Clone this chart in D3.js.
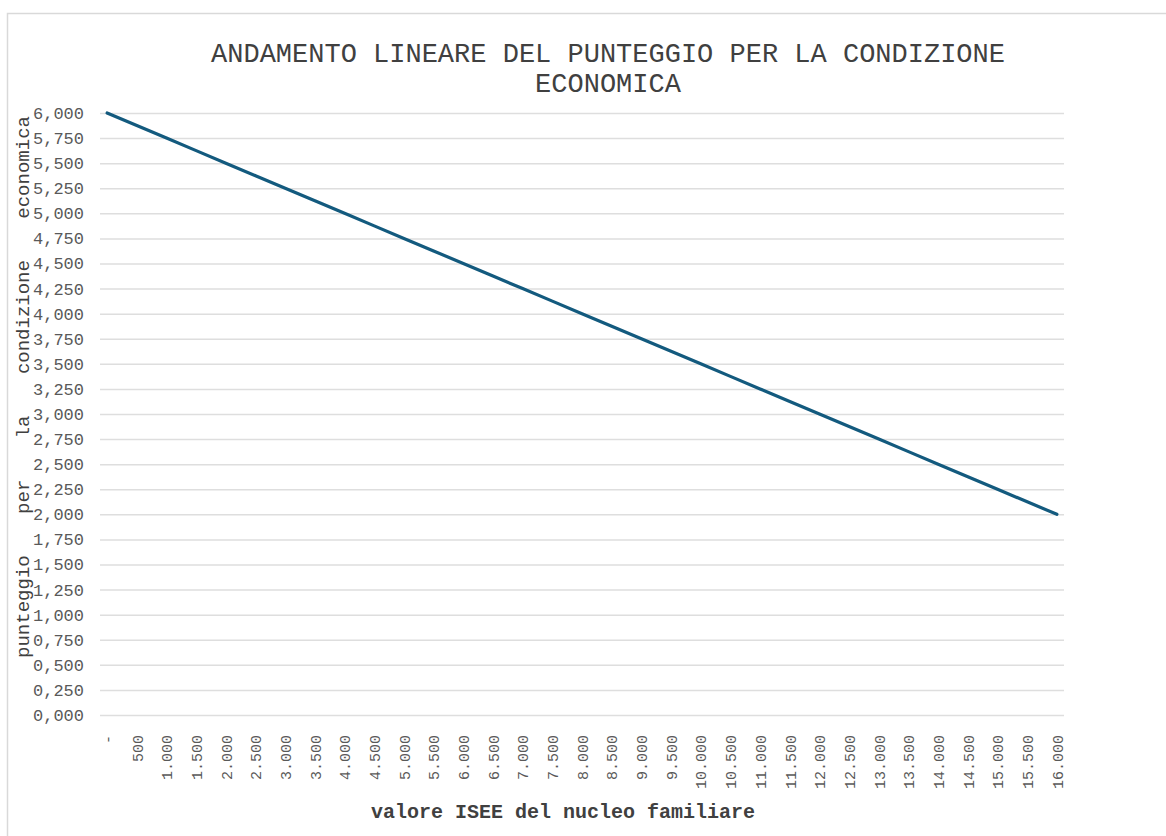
<!DOCTYPE html>
<html>
<head>
<meta charset="utf-8">
<script src="https://cdn.jsdelivr.net/npm/d3@7"></script>
<style>
  html, body { margin: 0; padding: 0; background: #fff; }
  svg { display: block; }
</style>
</head>
<body>
<div id="chart"></div>
<script>
// ISEE categories (euro) and score values
const isee = [0, 500, 1000, 1500, 2000, 2500, 3000, 3500, 4000, 4500, 5000, 5500,
  6000, 6500, 7000, 7500, 8000, 8500, 9000, 9500, 10000, 10500, 11000, 11500,
  12000, 12500, 13000, 13500, 14000, 14500, 15000, 15500, 16000];
const punteggio = [6.000, 5.875, 5.750, 5.625, 5.500, 5.375, 5.250, 5.125, 5.000,
  4.875, 4.750, 4.625, 4.500, 4.375, 4.250, 4.125, 4.000, 3.875, 3.750, 3.625,
  3.500, 3.375, 3.250, 3.125, 3.000, 2.875, 2.750, 2.625, 2.500, 2.375, 2.250,
  2.125, 2.000];
const yTicks = [0, 0.25, 0.5, 0.75, 1, 1.25, 1.5, 1.75, 2, 2.25, 2.5, 2.75, 3,
  3.25, 3.5, 3.75, 4, 4.25, 4.5, 4.75, 5, 5.25, 5.5, 5.75, 6];
const titleLines = ["ANDAMENTO LINEARE DEL PUNTEGGIO PER LA CONDIZIONE", "ECONOMICA"];
const xTitle = "valore ISEE del nucleo familiare";
const yTitle = "punteggio per la condizione economica";

const width = 1166, height = 836;
const mono = "'Liberation Mono', 'Courier New', monospace";
const plot = { left: 100, right: 1064, top: 113, bottom: 715 };

const svg = d3.select("#chart").append("svg")
  .attr("width", width)
  .attr("height", height);

// chart frame
svg.append("rect")
  .attr("x", 7.5).attr("y", 13.5)
  .attr("width", width + 10).attr("height", height)
  .attr("fill", "#fff")
  .attr("stroke", "#d9d9d9")
  .attr("stroke-width", 1.5);

const x = d3.scalePoint()
  .domain(isee)
  .range([plot.left, plot.right])
  .padding(0.24);

const y = d3.scaleLinear()
  .domain([0, 6])
  .range([plot.bottom, plot.top]);

const fmtY = v => d3.format(".3f")(v).replace(".", ",");
const fmtX = v => v === 0 ? "-" : d3.format(",")(v).replace(/,/g, ".");

// gridlines + y labels
const yAxis = d3.axisLeft(y)
  .tickValues(yTicks)
  .tickSize(-(plot.right - plot.left))
  .tickPadding(16)
  .tickFormat(fmtY);

const gy = svg.append("g")
  .attr("transform", `translate(${plot.left},0)`)
  .call(yAxis);
gy.select(".domain").remove();
gy.selectAll(".tick line").attr("stroke", "#dedede").attr("stroke-width", 1.5);
gy.selectAll(".tick text")
  .attr("font-family", mono)
  .attr("font-size", 17)
  .attr("fill", "#595959");

// x labels (rotated)
const xAxis = d3.axisBottom(x)
  .tickSize(0)
  .tickFormat(fmtX);

const gx = svg.append("g")
  .attr("transform", `translate(0,${plot.bottom})`)
  .call(xAxis);
gx.select(".domain").remove();
gx.selectAll(".tick text")
  .attr("font-family", mono)
  .attr("font-size", 15)
  .attr("fill", "#595959")
  .attr("text-anchor", "end")
  .attr("transform", "rotate(-90)")
  .attr("x", -20)
  .attr("y", 0)
  .attr("dy", "0.35em");

// line
const line = d3.line()
  .x((d, i) => x(isee[i]))
  .y(d => y(d));

svg.append("path")
  .datum(punteggio)
  .attr("d", line)
  .attr("fill", "none")
  .attr("stroke", "#135a7e")
  .attr("stroke-width", 3.2)
  .attr("stroke-linecap", "round")
  .attr("stroke-linejoin", "round");

// title
svg.append("g").selectAll("text")
  .data(titleLines)
  .join("text")
  .attr("x", 608)
  .attr("y", (d, i) => 62 + i * 30)
  .attr("text-anchor", "middle")
  .attr("font-family", mono)
  .attr("font-size", 27)
  .attr("fill", "#404040")
  .text(d => d);

// x title
svg.append("text")
  .attr("x", 563)
  .attr("y", 818)
  .attr("text-anchor", "middle")
  .attr("font-family", mono)
  .attr("font-size", 20)
  .attr("font-weight", "bold")
  .attr("fill", "#404040")
  .text(xTitle);

// y title (spread words)
svg.append("text")
  .attr("transform", "translate(29,387) rotate(-90)")
  .attr("text-anchor", "middle")
  .attr("font-family", mono)
  .attr("font-size", 19)
  .attr("fill", "#404040")
  .style("word-spacing", "30px")
  .text(yTitle);
</script>
</body>
</html>
